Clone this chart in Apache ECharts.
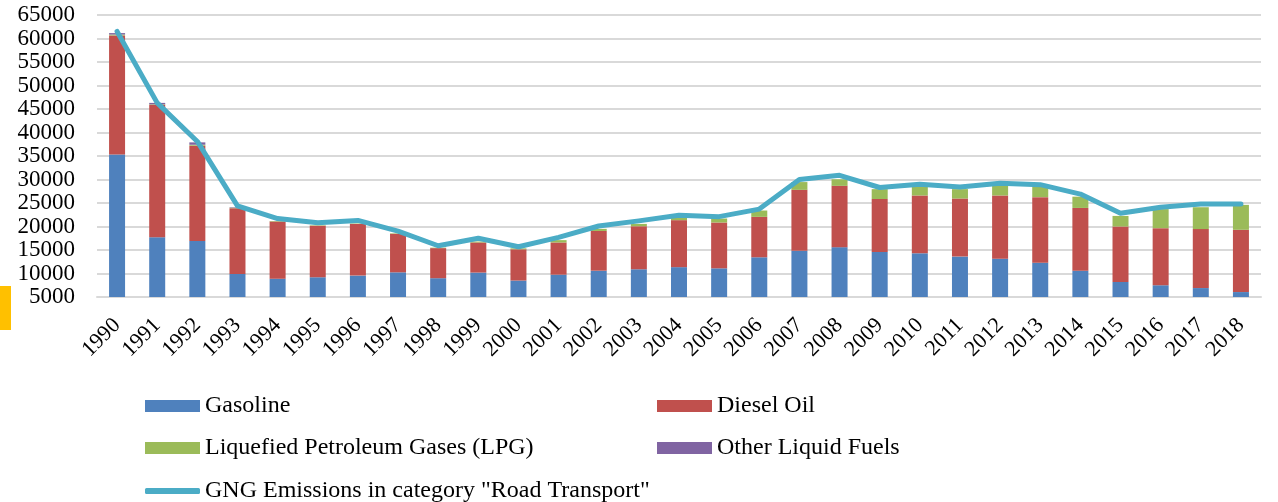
<!DOCTYPE html>
<html>
<head>
    <meta charset="utf-8">
    <script src="https://cdn.jsdelivr.net/npm/echarts@6/dist/echarts.min.js"></script>
    <style>
        html, body, #chart {
            width: 1278px;
            height: 502px;
            margin: 0px;
            background: #fff;
        }
    </style>
</head>
<body>
    <div id="chart"></div>
    <script>
        var years = ['1990', '1991', '1992', '1993', '1994', '1995', '1996', '1997', '1998', '1999',
            '2000', '2001', '2002', '2003', '2004', '2005', '2006', '2007', '2008', '2009',
            '2010', '2011', '2012', '2013', '2014', '2015', '2016', '2017', '2018'];
        var gasoline = [35300, 17700, 16900, 9900, 8900, 9200, 9550, 10250, 9000, 10200,
            8500, 9750, 10600, 10900, 11350, 11100, 13450, 14850, 15600, 14600,
            14300, 13600, 13150, 12300, 10600, 8200, 7500, 6900, 6050];
        var diesel = [25350, 28200, 20300, 14000, 12150, 10950, 11000, 8200, 6400, 6400,
            6650, 6850, 8450, 9150, 10000, 9750, 8600, 12950, 13050, 11250,
            12300, 12350, 13450, 13950, 13350, 11800, 12150, 12550, 13250];
        var lpg = [200, 100, 200, 100, 100, 100, 100, 100, 100, 200,
            200, 500, 450, 500, 550, 850, 1350, 1650, 1400, 2100,
            2050, 2000, 2250, 2250, 2400, 2250, 4050, 4650, 5300];
        var otherFuels = [300, 300, 500, 100, 0, 0, 0, 0, 0, 0,
            0, 0, 0, 0, 0, 0, 0, 0, 0, 0,
            0, 0, 0, 0, 0, 0, 0, 0, 0];
        var roadTotal = [61500, 46300, 38100, 24400, 21700, 20800, 21300, 19000, 15900, 17500,
            15700, 17700, 20100, 21200, 22400, 22100, 23700, 30000, 30900, 28300,
            29000, 28400, 29200, 28900, 26900, 22800, 24100, 24800, 24800];

        var font = 'Liberation Serif';
        var myChart = echarts.init(document.getElementById('chart'));

        function legendAt(name, left, top, icon, h) {
            return {
                data: [name],
                left: left,
                top: top,
                icon: icon,
                itemWidth: 55,
                itemHeight: h,
                itemGap: 0,
                textStyle: { fontFamily: font, fontSize: 24, color: '#000' }
            };
        }

        var option = {
            animation: false,
            grid: { left: 97, right: 17, top: 15, bottom: 205 },
            legend: [
                legendAt('Gasoline', 140, 389, 'rect', 12),
                legendAt('Diesel Oil', 652, 389, 'rect', 12),
                legendAt('Liquefied Petroleum Gases (LPG)', 140, 431, 'rect', 12),
                legendAt('Other Liquid Fuels', 652, 431, 'rect', 12),
                legendAt('GNG Emissions in category "Road Transport"', 140, 474, 'roundRect', 6)
            ],
            xAxis: {
                type: 'category',
                data: years,
                axisTick: { show: false },
                axisLine: { lineStyle: { color: '#d9d9d9', width: 2 } },
                axisLabel: {
                    interval: 0,
                    rotate: 45,
                    margin: 25,
                    fontFamily: font,
                    fontSize: 22,
                    color: '#000'
                }
            },
            yAxis: {
                type: 'value',
                min: 5000,
                max: 65000,
                interval: 5000,
                axisLine: { show: false },
                axisTick: { show: false },
                splitLine: { lineStyle: { color: '#d9d9d9', width: 2 } },
                axisLabel: {
                    margin: 22,
                    fontFamily: font,
                    fontSize: 23,
                    color: '#000',
                    formatter: function (v) { return String(v); }
                }
            },
            series: [
                { name: 'Gasoline', type: 'bar', stack: 'fuel', barWidth: 16, data: gasoline, itemStyle: { color: '#4f81bd' } },
                { name: 'Diesel Oil', type: 'bar', stack: 'fuel', data: diesel, itemStyle: { color: '#c0504d' } },
                { name: 'Liquefied Petroleum Gases (LPG)', type: 'bar', stack: 'fuel', data: lpg, itemStyle: { color: '#9bbb59' } },
                { name: 'Other Liquid Fuels', type: 'bar', stack: 'fuel', data: otherFuels, itemStyle: { color: '#8064a2' } },
                {
                    name: 'GNG Emissions in category "Road Transport"',
                    type: 'line',
                    data: roadTotal,
                    showSymbol: false,
                    symbol: 'none',
                    itemStyle: { color: '#4bacc6' },
                    lineStyle: { color: '#4bacc6', width: 5, cap: 'round', join: 'round' },
                    z: 5
                }
            ],
            graphic: [{
                type: 'rect',
                left: 0,
                top: 286,
                shape: { width: 11, height: 44 },
                style: { fill: '#ffc000' }
            }]
        };
        myChart.setOption(option);
    </script>
</body>
</html>
